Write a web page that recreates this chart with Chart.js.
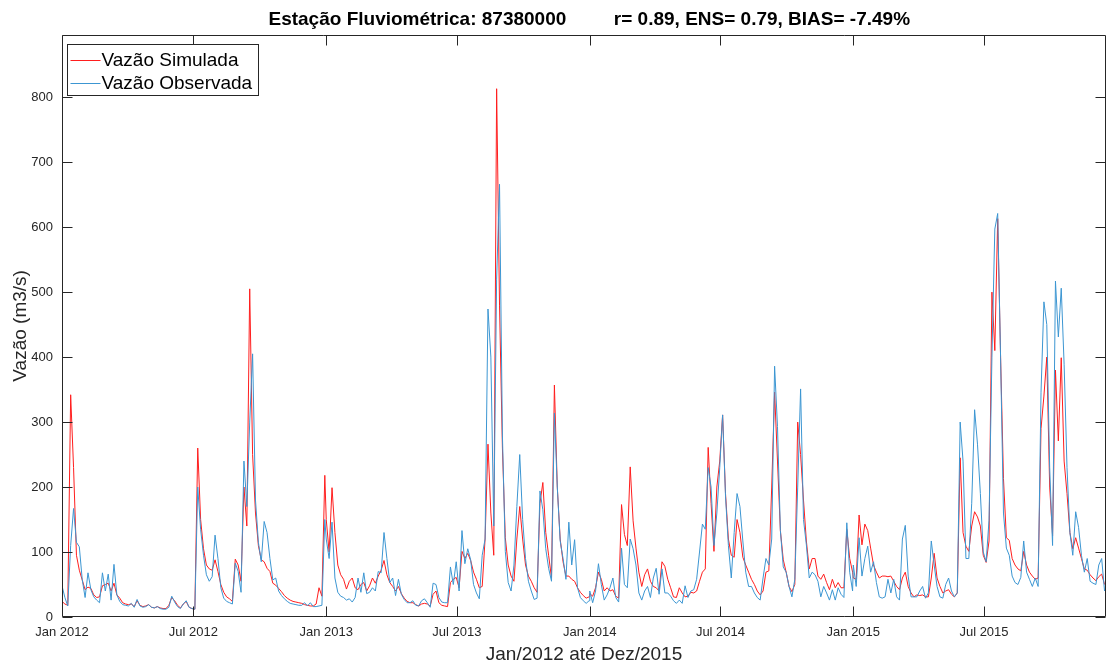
<!DOCTYPE html>
<html>
<head>
<meta charset="utf-8">
<title>Estação Fluviométrica 87380000</title>
<script src="https://cdn.jsdelivr.net/npm/chart.js@4.4.1/dist/chart.umd.min.js"></script>
<style>
    html, body { margin: 0; padding: 0; background: #fff; }
    #divChart { width: 1110px; height: 664px; }
</style>
</head>
<body>
<div id="divChart"><canvas id="chartVazao" width="1110" height="664"></canvas></div>
<script>
// Vazão diária (m3/s), uma amostra a cada 4 dias, uma lista por ano
var STEP_DAYS = 4;
var yearStartDay = [0, 366, 731, 1096];

var sim2012 = [
    24, 20, 18, 342, 230, 95, 72, 57, 42, 46,
    44, 34, 30, 31, 48, 50, 52, 40, 52, 34,
    29, 22, 20, 19, 20, 16, 25, 18, 16, 17,
    19, 15, 14, 16, 14, 13, 13, 18, 30, 25,
    18, 14, 20, 24, 15, 13, 12, 260, 150, 105,
    80, 74, 72, 88, 70, 50, 38, 31, 28, 24,
    89, 80, 55, 200, 140, 505, 250, 160, 110, 88,
    85, 75, 70, 52, 49, 44, 39, 33, 29, 26,
    24, 23, 22, 21, 19, 18, 17, 17, 20, 45,
    32, 218
];
var obs2012 = [
    48, 30, 17, 110, 167, 115, 108, 58, 30, 68,
    42, 31, 26, 22, 68, 40, 66, 26, 81, 34,
    24, 19, 18, 17, 21, 15, 27, 17, 15, 16,
    19, 15, 14, 16, 13, 12, 12, 15, 32, 23,
    16, 13, 20, 25, 15, 13, 12, 200, 135, 95,
    65, 55, 62, 126, 90, 45, 29, 24, 22, 20,
    83, 70, 38, 240, 170, 300, 405, 180, 115, 85,
    147, 130, 90, 57, 60, 40, 33, 28, 24, 21,
    20, 19, 18, 18, 22, 17, 22, 16, 16, 17,
    18, 150
];

var sim2013 = [
    150, 100, 199, 130, 80, 65, 58, 43, 55, 60,
    45, 42, 50, 53, 40, 48, 60, 52, 63, 72,
    87, 65, 53, 47, 40, 47, 36, 29, 24, 22,
    22, 19, 17, 20, 21, 20, 17, 35, 40, 22,
    18, 17, 16, 53, 58, 61, 45, 101, 90, 98,
    87, 69, 58, 45, 47, 120, 266, 160, 95, 813,
    480, 260, 122, 80, 63, 55, 120, 170, 120, 80,
    63, 55, 45, 38, 175, 207, 130, 95, 60, 357,
    200, 120, 85, 63, 63, 58, 55, 45, 38, 33,
    29, 31
];
var obs2013 = [
    120, 90, 146, 60, 38, 32, 30, 26, 28, 23,
    30, 60, 38, 68, 36, 38, 45, 40, 70, 68,
    130, 90, 53, 60, 33, 58, 35, 27, 22, 22,
    25, 18, 17, 25, 28, 22, 15, 52, 50, 30,
    23, 22, 22, 77, 50, 85, 40, 133, 82, 105,
    88, 50, 37, 28, 95, 120, 474, 400, 140, 520,
    666, 280, 101, 53, 40, 80, 170, 250, 150, 90,
    55, 40, 27, 29, 194, 165, 105, 75, 55, 314,
    200, 117, 90, 58, 146, 80, 119, 45, 30, 25,
    21, 25
];

var sim2014 = [
    36, 32, 45, 69, 58, 40, 45, 40, 42, 32,
    29, 173, 127, 110, 231, 148, 106, 69, 47, 65,
    74, 55, 47, 45, 40, 85, 78, 58, 45, 31,
    30, 45, 37, 31, 32, 38, 37, 40, 55, 69,
    74, 261, 175, 101, 200, 240, 311, 190, 120, 95,
    92, 150, 130, 92, 80, 69, 58, 50, 40, 34,
    40, 69, 71, 200, 346, 240, 133, 88, 69, 47,
    39, 50, 300, 250, 180, 117, 74, 90, 90, 63,
    58, 66, 53, 42, 58, 45, 53, 45, 45, 135,
    90, 69
];
var obs2014 = [
    40, 22, 40, 82, 50, 26, 34, 45, 60, 30,
    23, 106, 50, 45, 120, 105, 80, 37, 26, 40,
    47, 30, 60, 75, 35, 74, 37, 37, 32, 25,
    21, 26, 21, 48, 30, 40, 42, 58, 100, 143,
    135, 230, 200, 110, 160, 230, 311, 186, 110, 60,
    130, 190, 170, 117, 69, 47, 47, 37, 30, 26,
    60, 90, 80, 120, 386, 293, 133, 77, 69, 47,
    31, 58, 200, 351, 150, 111, 60, 69, 65, 55,
    31, 47, 37, 26, 42, 26, 45, 35, 30, 145,
    69, 40
];

var sim2015 = [
    60, 58, 157, 111, 143, 133, 106, 80, 69, 60,
    63, 63, 62, 63, 55, 47, 42, 60, 69, 47,
    37, 31, 34, 33, 34, 31, 31, 60, 98, 60,
    47, 37, 40, 42, 35, 31, 37, 245, 130, 109,
    101, 140, 162, 154, 140, 95, 84, 117, 500, 410,
    613, 400, 213, 122, 118, 90, 80, 74, 71, 101,
    80, 69, 63, 58, 60, 290, 340, 400, 200, 125,
    380, 271, 399, 240, 190, 130, 105, 122, 106, 90,
    74, 72, 65, 60, 56, 62, 66, 50
];
var obs2015 = [
    80, 47, 122, 63, 90, 109, 69, 85, 53, 31,
    29, 31, 58, 37, 58, 31, 26, 120, 141, 63,
    31, 31, 31, 40, 47, 29, 37, 117, 80, 47,
    31, 29, 50, 60, 40, 31, 37, 300, 240, 90,
    90, 175, 319, 266, 190, 100, 85, 149, 400, 597,
    621, 399, 160, 106, 95, 63, 53, 50, 61, 117,
    69, 58, 47, 60, 47, 346, 485, 450, 230, 110,
    517, 431, 506, 389, 230, 130, 95, 162, 138, 95,
    69, 90, 55, 52, 50, 80, 90, 40
];

var tickDays = [0, 182, 366, 547, 731, 912, 1096, 1277];
var tickLabels = ['Jan 2012', 'Jul 2012', 'Jan 2013', 'Jul 2013', 'Jan 2014', 'Jul 2014', 'Jan 2015', 'Jul 2015'];
var yTickValues = [0, 100, 200, 300, 400, 500, 600, 700, 800];

var FONT = "'Liberation Sans', Arial, Helvetica, sans-serif";
var AXIS_COLOR = '#262626';
var RED = 'rgb(255, 30, 30)';
var BLUE = 'rgb(60, 150, 210)';
var TICK_LEN = 10;

function toPoints(years) {
    var pts = [];
    for (var k = 0; k < years.length; k++) {
        for (var i = 0; i < years[k].length; i++) {
            pts.push({x: yearStartDay[k] + STEP_DAYS * i, y: years[k][i]});
        }
    }
    return pts;
}

// caixa dos eixos com marcas para dentro (estilo MATLAB)
var axesBox = {
    id: 'axesBox',
    afterDatasetsDraw: function (chart) {
        var a = chart.chartArea, ctx = chart.ctx;
        var xs = chart.scales.x, ys = chart.scales.y;
        var l = Math.round(a.left) + 0.5, r = Math.round(a.right) - 0.5;
        var t = Math.round(a.top) + 0.5, b = Math.round(a.bottom) - 0.5;
        ctx.save();
        ctx.strokeStyle = AXIS_COLOR;
        ctx.lineWidth = 1;
        ctx.beginPath();
        ctx.rect(l, t, r - l, b - t);
        tickDays.forEach(function (d) {
            var px = Math.round(xs.getPixelForValue(d)) + 0.5;
            ctx.moveTo(px, b); ctx.lineTo(px, b - TICK_LEN);
            ctx.moveTo(px, t); ctx.lineTo(px, t + TICK_LEN);
        });
        yTickValues.forEach(function (v) {
            var py = Math.round(ys.getPixelForValue(v)) + 0.5;
            ctx.moveTo(l, py); ctx.lineTo(l + TICK_LEN, py);
            ctx.moveTo(r, py); ctx.lineTo(r - TICK_LEN, py);
        });
        ctx.stroke();
        ctx.restore();
    }
};

// legenda com borda, dentro da área do gráfico
var boxLegend = {
    id: 'boxLegend',
    afterDraw: function (chart) {
        var ctx = chart.ctx, a = chart.chartArea;
        var x0 = a.left + 5.5, y0 = 44.5, w = 191, h = 51;
        ctx.save();
        ctx.fillStyle = '#fff';
        ctx.fillRect(x0, y0, w, h);
        ctx.strokeStyle = AXIS_COLOR;
        ctx.lineWidth = 1;
        ctx.strokeRect(x0, y0, w, h);
        ctx.font = '19px ' + FONT;
        ctx.textBaseline = 'middle';
        ctx.fillStyle = '#000';
        chart.data.datasets.forEach(function (ds, i) {
            var ly = Math.round(y0 + 15 + i * 23) + 0.5;
            ctx.strokeStyle = ds.borderColor;
            ctx.beginPath();
            ctx.moveTo(x0 + 3, ly);
            ctx.lineTo(x0 + 33, ly);
            ctx.stroke();
            ctx.fillText(ds.label, x0 + 34, ly);
        });
        ctx.restore();
    }
};

var ctx = document.getElementById('chartVazao');
new Chart(ctx, {
    type: 'line',
    data: {
        datasets: [{
            label: 'Vazão Simulada',
            data: toPoints([sim2012, sim2013, sim2014, sim2015]),
            borderColor: RED,
            borderWidth: 1,
            pointRadius: 0,
            order: 1
        }, {
            label: 'Vazão Observada',
            data: toPoints([obs2012, obs2013, obs2014, obs2015]),
            borderColor: BLUE,
            borderWidth: 1,
            pointRadius: 0,
            order: 0
        }]
    },
    options: {
        responsive: false,
        animation: false,
        devicePixelRatio: 1,
        layout: {padding: {left: 0, right: 4, top: 0, bottom: 0}},
        plugins: {
            legend: {display: false},
            tooltip: {enabled: false},
            title: {
                display: true,
                fullSize: false,
                text: '  Estação Fluviométrica: 87380000         r= 0.89, ENS= 0.79, BIAS= -7.49%',
                color: '#000',
                font: {family: FONT, size: 19, weight: 'bold'},
                padding: {top: 8, bottom: 4}
            }
        },
        scales: {
            x: {
                type: 'linear',
                min: 0,
                max: 1446,
                grid: {display: false, drawTicks: false},
                border: {display: false},
                afterBuildTicks: function (scale) {
                    scale.ticks = tickDays.map(function (d) { return {value: d}; });
                },
                ticks: {
                    autoSkip: false,
                    maxRotation: 0,
                    padding: 8,
                    color: AXIS_COLOR,
                    font: {family: FONT, size: 13},
                    callback: function (value) {
                        return tickLabels[tickDays.indexOf(value)];
                    }
                },
                title: {
                    display: true,
                    text: 'Jan/2012 até Dez/2015',
                    color: AXIS_COLOR,
                    font: {family: FONT, size: 19},
                    padding: {top: 0, bottom: -2}
                },
                afterFit: function (scale) { scale.height = 47; }
            },
            y: {
                min: 0,
                max: 896,
                grid: {display: false, drawTicks: false},
                border: {display: false},
                afterBuildTicks: function (scale) {
                    scale.ticks = yTickValues.map(function (v) { return {value: v}; });
                },
                ticks: {
                    padding: 9,
                    color: AXIS_COLOR,
                    font: {family: FONT, size: 13}
                },
                title: {
                    display: true,
                    text: 'Vazão (m3/s)',
                    color: AXIS_COLOR,
                    font: {family: FONT, size: 19},
                    padding: {top: 9, bottom: 0}
                },
                afterFit: function (scale) { scale.width = 62; }
            }
        }
    },
    plugins: [axesBox, boxLegend]
});
</script>
</body>
</html>
